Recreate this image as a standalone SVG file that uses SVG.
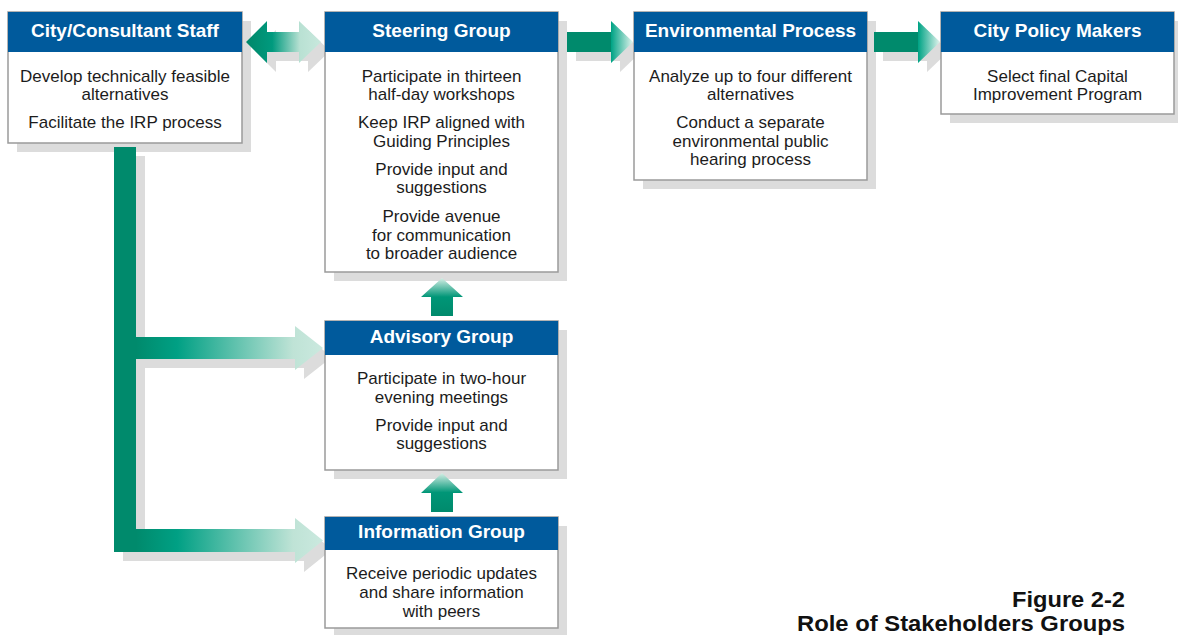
<svg xmlns="http://www.w3.org/2000/svg" width="1178" height="635" viewBox="0 0 1178 635">
  <defs>
    <style>
      .shadow { fill: #dcdcdc; }
      .box { fill: #ffffff; stroke: #9a9a9a; stroke-width: 1.5; }
      .head { fill: #005a9c; }
      .title { font-family: "Liberation Sans", Arial, sans-serif; font-weight: bold; font-size: 19px; fill: #ffffff; text-anchor: middle; }
      .body { font-family: "Liberation Sans", Arial, sans-serif; font-size: 17px; fill: #1c1c1c; text-anchor: middle; }
      .caption { font-family: "Liberation Sans", Arial, sans-serif; font-weight: bold; font-size: 21.5px; fill: #111111; text-anchor: end; }
      .solid { fill: #008a6c; }
    </style>
    <!-- two-way arrow: dark on the left, fading to pale green on the right -->
    <linearGradient id="gDouble" gradientUnits="userSpaceOnUse" x1="246" y1="0" x2="321" y2="0">
      <stop offset="0" stop-color="#008769"/>
      <stop offset="0.35" stop-color="#009a7e"/>
      <stop offset="0.72" stop-color="#b9e1d3"/>
      <stop offset="1" stop-color="#c8e8dd"/>
    </linearGradient>
    <!-- right-pointing arrows: solid shaft, head fading toward the tip -->
    <linearGradient id="gRight1" gradientUnits="userSpaceOnUse" x1="567" y1="0" x2="633" y2="0">
      <stop offset="0" stop-color="#008a6c"/>
      <stop offset="0.66" stop-color="#008a6c"/>
      <stop offset="0.67" stop-color="#00a385"/>
      <stop offset="1" stop-color="#e4f4ee"/>
    </linearGradient>
    <linearGradient id="gRight2" gradientUnits="userSpaceOnUse" x1="874" y1="0" x2="940" y2="0">
      <stop offset="0" stop-color="#008a6c"/>
      <stop offset="0.66" stop-color="#008a6c"/>
      <stop offset="0.67" stop-color="#00a385"/>
      <stop offset="1" stop-color="#e4f4ee"/>
    </linearGradient>
    <!-- branches off the vertical trunk -->
    <linearGradient id="gBranch" gradientUnits="userSpaceOnUse" x1="136" y1="0" x2="323" y2="0">
      <stop offset="0" stop-color="#008a6c"/>
      <stop offset="0.22" stop-color="#00a084"/>
      <stop offset="0.84" stop-color="#bfe3d6"/>
      <stop offset="1" stop-color="#cbe9df"/>
    </linearGradient>
    <!-- upward arrows: pale tip, solid shaft -->
    <linearGradient id="gUp" x1="0" y1="0" x2="0" y2="1">
      <stop offset="0" stop-color="#d6efe6"/>
      <stop offset="0.5" stop-color="#009677"/>
      <stop offset="1" stop-color="#008a6c"/>
    </linearGradient>
  </defs>

  <!-- drop shadows -->
  <g id="shadows">
    <rect class="shadow" x="17" y="21" width="234" height="131"/>
    <rect class="shadow" x="334" y="21" width="233" height="260"/>
    <rect class="shadow" x="643" y="21" width="233" height="168"/>
    <rect class="shadow" x="950" y="21" width="233" height="102"/>
    <rect class="shadow" x="334" y="330" width="233" height="149"/>
    <rect class="shadow" x="334" y="526" width="233" height="111"/>
    <polygon class="shadow" points="255,51 276,30 276,41 308,41 308,30 330,51 308,72 308,61 276,61 276,72"/>
    <polygon class="shadow" points="576,41 620,41 620,30 642,51 620,72 620,61 576,61"/>
    <polygon class="shadow" points="883,41 927,41 927,30 949,51 927,72 927,61 883,61"/>
    <path class="shadow" d="M123,156 H145 V346 H304 V335 L332,357 L304,379 V368 H145 V538 H304 V527 L332,549.5 L304,572 V561 H123 Z"/>
  </g>

  <!-- connectors -->
  <g id="connectors">
    <polygon fill="url(#gDouble)" points="246,42 267,21 267,32 299,32 299,21 321,42 299,63 299,52 267,52 267,63"/>
    <polygon fill="url(#gRight1)" points="567,32 611,32 611,21 633,42 611,63 611,52 567,52"/>
    <polygon fill="url(#gRight2)" points="874,32 918,32 918,21 940,42 918,63 918,52 874,52"/>
    <rect class="solid" x="114" y="147" width="22" height="405"/>
    <polygon fill="url(#gBranch)" points="136,337 295,337 295,326 323,348 295,370 295,359 136,359"/>
    <polygon fill="url(#gBranch)" points="136,529 295,529 295,518 323,540.5 295,563 295,552 136,552"/>
    <polygon fill="url(#gUp)" points="442,278 463,297 453,297 453,316 431,316 431,297 421,297"/>
    <polygon fill="url(#gUp)" points="442,473 463,493 453,493 453,512 431,512 431,493 421,493"/>
  </g>

  <g id="city-staff">
    <rect class="box" x="8" y="12" width="234" height="131"/>
    <rect class="head" x="8" y="12" width="234" height="40"/>
    <text class="title" x="125" y="37">City/Consultant Staff</text>
    <text class="body"><tspan x="125" y="82">Develop technically feasible</tspan><tspan x="125" y="100">alternatives</tspan><tspan x="125" y="128">Facilitate the IRP process</tspan></text>
  </g>

  <g id="steering-group">
    <rect class="box" x="325" y="12" width="233" height="260"/>
    <rect class="head" x="325" y="12" width="233" height="40"/>
    <text class="title" x="441.5" y="37">Steering Group</text>
    <text class="body"><tspan x="441.5" y="82">Participate in thirteen</tspan><tspan x="441.5" y="100">half-day workshops</tspan><tspan x="441.5" y="128">Keep IRP aligned with</tspan><tspan x="441.5" y="147">Guiding Principles</tspan><tspan x="441.5" y="175">Provide input and</tspan><tspan x="441.5" y="193">suggestions</tspan><tspan x="441.5" y="222">Provide avenue</tspan><tspan x="441.5" y="241">for communication</tspan><tspan x="441.5" y="259">to broader audience</tspan></text>
  </g>

  <g id="environmental-process">
    <rect class="box" x="634" y="12" width="233" height="168"/>
    <rect class="head" x="634" y="12" width="233" height="40"/>
    <text class="title" x="750.5" y="37">Environmental Process</text>
    <text class="body"><tspan x="750.5" y="82">Analyze up to four different</tspan><tspan x="750.5" y="100">alternatives</tspan><tspan x="750.5" y="128">Conduct a separate</tspan><tspan x="750.5" y="147">environmental public</tspan><tspan x="750.5" y="165">hearing process</tspan></text>
  </g>

  <g id="city-policy-makers">
    <rect class="box" x="941" y="12" width="233" height="102"/>
    <rect class="head" x="941" y="12" width="233" height="40"/>
    <text class="title" x="1057.5" y="37">City Policy Makers</text>
    <text class="body"><tspan x="1057.5" y="82">Select final Capital</tspan><tspan x="1057.5" y="100">Improvement Program</tspan></text>
  </g>

  <g id="advisory-group">
    <rect class="box" x="325" y="321" width="233" height="149"/>
    <rect class="head" x="325" y="321" width="233" height="34"/>
    <text class="title" x="441.5" y="343">Advisory Group</text>
    <text class="body"><tspan x="441.5" y="384">Participate in two-hour</tspan><tspan x="441.5" y="403">evening meetings</tspan><tspan x="441.5" y="431">Provide input and</tspan><tspan x="441.5" y="449">suggestions</tspan></text>
  </g>

  <g id="information-group">
    <rect class="box" x="325" y="517" width="233" height="111"/>
    <rect class="head" x="325" y="517" width="233" height="33"/>
    <text class="title" x="441.5" y="538">Information Group</text>
    <text class="body"><tspan x="441.5" y="579">Receive periodic updates</tspan><tspan x="441.5" y="598">and share information</tspan><tspan x="441.5" y="617">with peers</tspan></text>
  </g>

  <g id="caption">
    <text class="caption" x="1125" y="607" textLength="113" lengthAdjust="spacingAndGlyphs">Figure 2-2</text>
    <text class="caption" x="1125" y="631" textLength="328" lengthAdjust="spacingAndGlyphs">Role of Stakeholders Groups</text>
  </g>
</svg>
